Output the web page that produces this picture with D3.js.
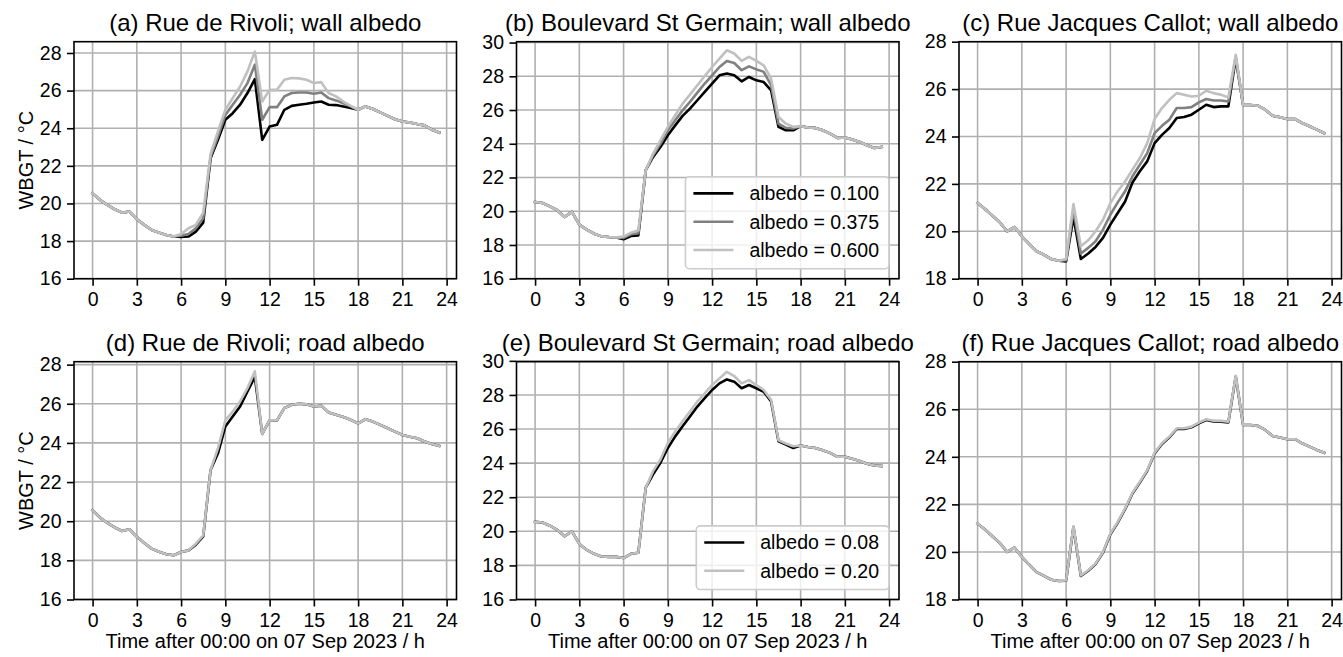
<!DOCTYPE html>
<html>
<head>
<meta charset="utf-8">
<script src="https://cdn.jsdelivr.net/npm/d3@7"></script>
<style>
  html, body { margin: 0; padding: 0; background: #ffffff; }
  svg { display: block; }
  text { font-family: "Liberation Sans", Arial, sans-serif; fill: #000; }
</style>
</head>
<body>
<script>
// Half-hourly time steps (hours after midnight)
const hours = [0, 0.5, 1, 1.5, 2, 2.5, 3, 3.5, 4, 4.5, 5, 5.5, 6, 6.5, 7, 7.5,
  8, 8.5, 9, 9.5, 10, 10.5, 11, 11.5, 12, 12.5, 13, 13.5, 14, 14.5, 15, 15.5,
  16, 16.5, 17, 17.5, 18, 18.5, 19, 19.5, 20, 20.5, 21, 21.5, 22, 22.5, 23, 23.5];

const xTickValues = [0, 3, 6, 9, 12, 15, 18, 21, 24];
const yTicks16to28 = [16, 18, 20, 22, 24, 26, 28];
const yTicks16to30 = [16, 18, 20, 22, 24, 26, 28, 30];
const yTicks18to28 = [18, 20, 22, 24, 26, 28];

const wallLabels = ["albedo = 0.100", "albedo = 0.375", "albedo = 0.600"];
const roadLabels = ["albedo = 0.08", "albedo = 0.20"];

const panelTitles = [
  "(a) Rue de Rivoli; wall albedo",
  "(b) Boulevard St Germain; wall albedo",
  "(c) Rue Jacques Callot; wall albedo",
  "(d) Rue de Rivoli; road albedo",
  "(e) Boulevard St Germain; road albedo",
  "(f) Rue Jacques Callot; road albedo"
];

// WBGT (°C), Rue de Rivoli, wall albedo runs
const rivoliWall100 = [20.54, 20.19, 19.92, 19.69, 19.51, 19.57, 19.16, 18.86, 18.59, 18.45, 18.32, 18.24,
  18.22, 18.24, 18.50, 18.98, 22.41, 23.38, 24.45, 24.80, 25.25, 25.87, 26.61, 23.38, 24.09, 24.18,
  24.98, 25.19, 25.25, 25.30, 25.37, 25.42, 25.25, 25.23, 25.16, 25.07, 24.98,
  25.16, 25.02, 24.84, 24.66, 24.48, 24.36, 24.30, 24.22, 24.15, 23.92, 23.77];
const rivoliWall375 = [20.54, 20.19, 19.92, 19.69, 19.51, 19.57, 19.16, 18.86, 18.59, 18.45, 18.32, 18.24,
  18.29, 18.38, 18.68, 19.21, 22.50, 23.56, 24.71, 25.25, 25.78, 26.40, 27.38, 24.45, 25.12, 25.12,
  25.69, 25.87, 25.90, 25.90, 25.83, 25.90, 25.60, 25.48, 25.33, 25.16, 24.98,
  25.16, 25.02, 24.84, 24.66, 24.48, 24.36, 24.30, 24.22, 24.15, 23.92, 23.77];
const rivoliWall600 = [20.54, 20.19, 19.92, 19.69, 19.51, 19.57, 19.16, 18.86, 18.59, 18.45, 18.32, 18.24,
  18.38, 18.68, 18.86, 19.51, 22.64, 23.83, 24.98, 25.60, 26.22, 27.02, 28.08, 25.42, 26.04, 26.04,
  26.58, 26.67, 26.65, 26.58, 26.40, 26.45, 25.87, 25.69, 25.42, 25.19, 24.98,
  25.16, 25.02, 24.84, 24.66, 24.48, 24.36, 24.30, 24.22, 24.15, 23.92, 23.77];

// Boulevard St Germain, wall albedo runs
const germainWall100 = [20.55, 20.49, 20.29, 20.06, 19.66, 19.96, 19.21, 18.91, 18.67, 18.51, 18.47, 18.45,
  18.34, 18.53, 18.57, 22.43, 23.22, 23.81, 24.50, 25.09, 25.65, 26.08, 26.58, 27.07, 27.57, 28.06,
  28.16, 28.06, 27.70, 27.96, 27.76, 27.66, 27.17, 25.00, 24.80, 24.80,
  25.04, 24.96, 24.94, 24.80, 24.60, 24.35, 24.37, 24.25, 24.11, 23.91, 23.75, 23.81];
const germainWall375 = [20.55, 20.49, 20.29, 20.06, 19.66, 19.96, 19.21, 18.91, 18.67, 18.51, 18.47, 18.45,
  18.42, 18.63, 18.69, 22.43, 23.32, 24.00, 24.80, 25.39, 25.98, 26.48, 27.03, 27.57, 28.06, 28.55,
  28.91, 28.79, 28.36, 28.59, 28.41, 28.26, 27.47, 25.19, 24.94, 24.90,
  25.04, 24.96, 24.94, 24.80, 24.60, 24.35, 24.37, 24.25, 24.11, 23.91, 23.75, 23.81];
const germainWall600 = [20.55, 20.49, 20.29, 20.06, 19.66, 19.96, 19.21, 18.91, 18.67, 18.51, 18.47, 18.45,
  18.50, 18.73, 18.87, 22.43, 23.42, 24.20, 25.00, 25.69, 26.38, 26.91, 27.47, 28.02, 28.55, 29.05,
  29.54, 29.35, 28.91, 29.15, 28.91, 28.65, 27.86, 25.59, 25.19, 25.00,
  25.04, 24.96, 24.94, 24.80, 24.60, 24.35, 24.37, 24.25, 24.11, 23.91, 23.75, 23.81];

// Rue Jacques Callot, wall albedo runs
const callotWall100 = [21.19, 20.94, 20.66, 20.38, 20.00, 20.18, 19.79, 19.46, 19.16, 19.01, 18.83, 18.76,
  18.73, 20.60, 18.83, 19.06, 19.34, 19.72, 20.28, 20.77, 21.26, 22.06, 22.53, 22.95, 23.72, 24.07,
  24.36, 24.78, 24.82, 24.92, 25.13, 25.34, 25.24, 25.27, 25.27, 27.30,
  25.33, 25.33, 25.30, 25.13, 24.88, 24.81, 24.74, 24.74, 24.57, 24.43, 24.29, 24.14];
const callotWall375 = [21.19, 20.94, 20.66, 20.38, 20.00, 20.18, 19.79, 19.46, 19.16, 19.01, 18.83, 18.76,
  18.78, 20.90, 19.06, 19.30, 19.58, 20.07, 20.70, 21.22, 21.69, 22.32, 22.81, 23.30, 24.14, 24.45,
  24.71, 25.20, 25.20, 25.24, 25.44, 25.58, 25.52, 25.52, 25.48, 27.38,
  25.33, 25.33, 25.30, 25.13, 24.88, 24.81, 24.74, 24.74, 24.57, 24.43, 24.29, 24.14];
const callotWall600 = [21.19, 20.94, 20.66, 20.38, 20.00, 20.18, 19.79, 19.46, 19.16, 19.01, 18.83, 18.76,
  18.83, 21.15, 19.37, 19.62, 20.00, 20.49, 21.19, 21.69, 22.10, 22.60, 23.09, 23.72, 24.74, 25.20,
  25.55, 25.83, 25.76, 25.69, 25.72, 25.93, 25.83, 25.76, 25.65, 27.45,
  25.33, 25.33, 25.30, 25.13, 24.88, 24.81, 24.74, 24.74, 24.57, 24.43, 24.29, 24.14];

// Road albedo runs
const rivoliRoad008 = [20.56, 20.19, 19.91, 19.68, 19.50, 19.59, 19.20, 18.89, 18.60, 18.44, 18.31, 18.26,
  18.43, 18.51, 18.80, 19.22, 22.62, 23.47, 24.84, 25.35, 25.86, 26.63, 27.37,
  24.46, 25.15, 25.15, 25.78, 25.95, 26.00, 25.97, 25.86, 25.90, 25.56, 25.44, 25.32, 25.18, 25.00,
  25.21, 25.09, 24.92, 24.75, 24.58, 24.41, 24.32, 24.24, 24.07, 23.95, 23.85];
const rivoliRoad020 = [20.56, 20.19, 19.91, 19.68, 19.50, 19.59, 19.20, 18.89, 18.60, 18.44, 18.31, 18.26,
  18.43, 18.51, 18.85, 19.28, 22.62, 23.73, 25.15, 25.60, 26.12, 26.80, 27.66,
  24.46, 25.15, 25.15, 25.78, 25.95, 26.00, 25.97, 25.86, 25.90, 25.56, 25.44, 25.32, 25.18, 25.00,
  25.21, 25.09, 24.92, 24.75, 24.58, 24.41, 24.32, 24.24, 24.07, 23.95, 23.85];

const germainRoad008 = [20.56, 20.52, 20.33, 20.08, 19.71, 20.00, 19.26, 18.91, 18.68, 18.52, 18.50, 18.50,
  18.43, 18.68, 18.74, 22.56, 23.34, 24.02, 24.89, 25.57, 26.16, 26.74, 27.32, 27.81, 28.29, 28.68,
  28.91, 28.78, 28.39, 28.58, 28.39, 28.19, 27.61, 25.28, 25.09, 24.89,
  25.03, 24.95, 24.89, 24.76, 24.60, 24.37, 24.37, 24.25, 24.12, 23.96, 23.86, 23.83];
const germainRoad020 = [20.56, 20.52, 20.33, 20.08, 19.71, 20.00, 19.26, 18.91, 18.68, 18.52, 18.50, 18.50,
  18.43, 18.68, 18.74, 22.56, 23.53, 24.21, 25.18, 25.86, 26.45, 27.03, 27.61, 28.10, 28.58, 28.97,
  29.36, 29.11, 28.68, 28.87, 28.58, 28.29, 27.71, 25.34, 25.15, 24.99,
  25.03, 24.95, 24.89, 24.76, 24.60, 24.37, 24.37, 24.25, 24.12, 23.96, 23.86, 23.83];

const callotRoad008 = [21.19, 20.94, 20.66, 20.38, 20.00, 20.18, 19.79, 19.46, 19.15, 18.99, 18.83, 18.78,
  18.79, 21.05, 18.99, 19.21, 19.49, 19.97, 20.74, 21.23, 21.80, 22.46, 22.92, 23.41, 24.14, 24.54,
  24.82, 25.17, 25.17, 25.24, 25.41, 25.55, 25.49, 25.48, 25.45, 27.38,
  25.34, 25.34, 25.30, 25.13, 24.88, 24.81, 24.74, 24.74, 24.57, 24.43, 24.29, 24.17];
const callotRoad020 = [21.19, 20.94, 20.66, 20.38, 20.00, 20.18, 19.79, 19.46, 19.15, 18.99, 18.83, 18.78,
  18.80, 21.08, 19.01, 19.23, 19.51, 20.00, 20.77, 21.26, 21.83, 22.49, 22.95, 23.44, 24.17, 24.57,
  24.85, 25.20, 25.20, 25.27, 25.44, 25.58, 25.52, 25.51, 25.48, 27.41,
  25.34, 25.34, 25.30, 25.13, 24.88, 24.81, 24.74, 24.74, 24.57, 24.43, 24.29, 24.17];

// ---- styling and layout ----
const W = 1343, H = 657;
const colLeft = [74, 516.5, 959];
const axW = 382.5;
const rowTop = [41.7, 361.7];
const axH = [237, 237.8];
const xDomain = [-1.26, 24.67];

const tickFont = 19.5;
const labelFont = 20;
const titleFont = 24;
const lineW = 2.6;
const gridColor = "#b0b0b0";
const seriesColors3 = ["#000000", "#808080", "#c0c0c0"];
const seriesColors2 = ["#000000", "#c0c0c0"];

const panels = [
  { title: panelTitles[0], row: 0, col: 0, yDomain: [16, 28.6], yTicks: yTicks16to28,
    series: [rivoliWall100, rivoliWall375, rivoliWall600], colors: seriesColors3, labels: wallLabels, legend: false },
  { title: panelTitles[1], row: 0, col: 1, yDomain: [16, 30.05], yTicks: yTicks16to30,
    series: [germainWall100, germainWall375, germainWall600], colors: seriesColors3, labels: wallLabels, legend: true },
  { title: panelTitles[2], row: 0, col: 2, yDomain: [18, 28], yTicks: yTicks18to28,
    series: [callotWall100, callotWall375, callotWall600], colors: seriesColors3, labels: wallLabels, legend: false },
  { title: panelTitles[3], row: 1, col: 0, yDomain: [16, 28.15], yTicks: yTicks16to28,
    series: [rivoliRoad008, rivoliRoad020], colors: seriesColors2, labels: roadLabels, legend: false },
  { title: panelTitles[4], row: 1, col: 1, yDomain: [16, 29.95], yTicks: yTicks16to30,
    series: [germainRoad008, germainRoad020], colors: seriesColors2, labels: roadLabels, legend: true },
  { title: panelTitles[5], row: 1, col: 2, yDomain: [18, 28], yTicks: yTicks18to28,
    series: [callotRoad008, callotRoad020], colors: seriesColors2, labels: roadLabels, legend: false }
];

const svg = d3.select("body").append("svg")
  .attr("width", W).attr("height", H)
  .attr("viewBox", `0 0 ${W} ${H}`);

svg.append("rect").attr("width", W).attr("height", H).attr("fill", "#fff");

panels.forEach(p => {
  const left = colLeft[p.col], top = rowTop[p.row], h = axH[p.row];
  const g = svg.append("g").attr("transform", `translate(${left},${top})`);

  const x = d3.scaleLinear().domain(xDomain).range([0, axW]);
  const y = d3.scaleLinear().domain(p.yDomain).range([h, 0]);

  // grid
  const grid = g.append("g").attr("stroke", gridColor).attr("stroke-width", 1.6);
  grid.selectAll("line.gx").data(xTickValues).join("line").attr("class", "gx")
    .attr("x1", d => x(d)).attr("x2", d => x(d)).attr("y1", 0).attr("y2", h);
  grid.selectAll("line.gy").data(p.yTicks).join("line").attr("class", "gy")
    .attr("x1", 0).attr("x2", axW).attr("y1", d => y(d)).attr("y2", d => y(d));

  // series lines (first drawn underneath)
  const line = d3.line().x((d, i) => x(hours[i])).y(d => y(d));
  p.series.forEach((vals, k) => {
    g.append("path").datum(vals)
      .attr("d", line)
      .attr("fill", "none")
      .attr("stroke", p.colors[k])
      .attr("stroke-width", lineW)
      .attr("stroke-linejoin", "round")
      .attr("stroke-linecap", "square");
  });

  // axes
  const xAxis = g.append("g").attr("transform", `translate(0,${h})`)
    .call(d3.axisBottom(x).tickValues(xTickValues).tickFormat(d3.format("d")).tickSize(7).tickPadding(6.5));
  const yAxis = g.append("g")
    .call(d3.axisLeft(y).tickValues(p.yTicks).tickFormat(d3.format("d")).tickSize(7).tickPadding(5.5));
  [xAxis, yAxis].forEach(a => {
    a.select(".domain").remove();
    a.selectAll(".tick line").attr("stroke", "#000").attr("stroke-width", 1.6);
    a.selectAll(".tick text")
      .style("font-family", '"Liberation Sans", Arial, sans-serif')
      .style("font-size", tickFont + "px").attr("fill", "#000");
  });

  // frame
  g.append("rect").attr("x", 0).attr("y", 0).attr("width", axW).attr("height", h)
    .attr("fill", "none").attr("stroke", "#000").attr("stroke-width", 1.6);

  // title
  g.append("text").attr("x", axW / 2).attr("y", -11)
    .attr("text-anchor", "middle").style("font-size", titleFont + "px")
    .text(p.title);

  if (p.col === 0) {
    svg.append("text")
      .attr("transform", `translate(32.5,${top + h / 2}) rotate(-90)`)
      .attr("text-anchor", "middle").style("font-size", labelFont + "px")
      .text("WBGT / °C");
  }
  if (p.row === 1) {
    g.append("text").attr("x", axW / 2).attr("y", h + 49)
      .attr("text-anchor", "middle").style("font-size", labelFont + "px")
      .text("Time after 00:00 on 07 Sep 2023 / h");
  }

  // legend
  if (p.legend) {
    const rowH = 28.3, pad = 8, handleLen = 40, textGap = 16;
    const lg = g.append("g");
    const box = lg.append("rect");
    const texts = [];
    p.labels.forEach((lab, k) => {
      const t = lg.append("text").style("font-size", tickFont + "px")
        .attr("dy", "0.35em").text(lab);
      texts.push(t);
    });
    const maxW = d3.max(texts, t => t.node().getComputedTextLength());
    const boxW = pad + handleLen + textGap + maxW + pad + 2;
    const boxH = p.labels.length * rowH + 7;
    const bx = axW - 10 - boxW, by = h - 10 - boxH;
    box.attr("x", bx).attr("y", by).attr("width", boxW).attr("height", boxH)
      .attr("rx", 4).attr("fill", "#fff").attr("fill-opacity", 0.8)
      .attr("stroke", "#cccccc").attr("stroke-width", 1.6);
    p.labels.forEach((lab, k) => {
      const cy = by + 16.6 + k * rowH;
      lg.append("line").attr("x1", bx + pad).attr("x2", bx + pad + handleLen)
        .attr("y1", cy).attr("y2", cy)
        .attr("stroke", p.colors[k]).attr("stroke-width", lineW);
      texts[k].attr("x", bx + pad + handleLen + textGap).attr("y", cy);
    });
    texts.forEach(t => t.raise());
  }
});
</script>
</body>
</html>
